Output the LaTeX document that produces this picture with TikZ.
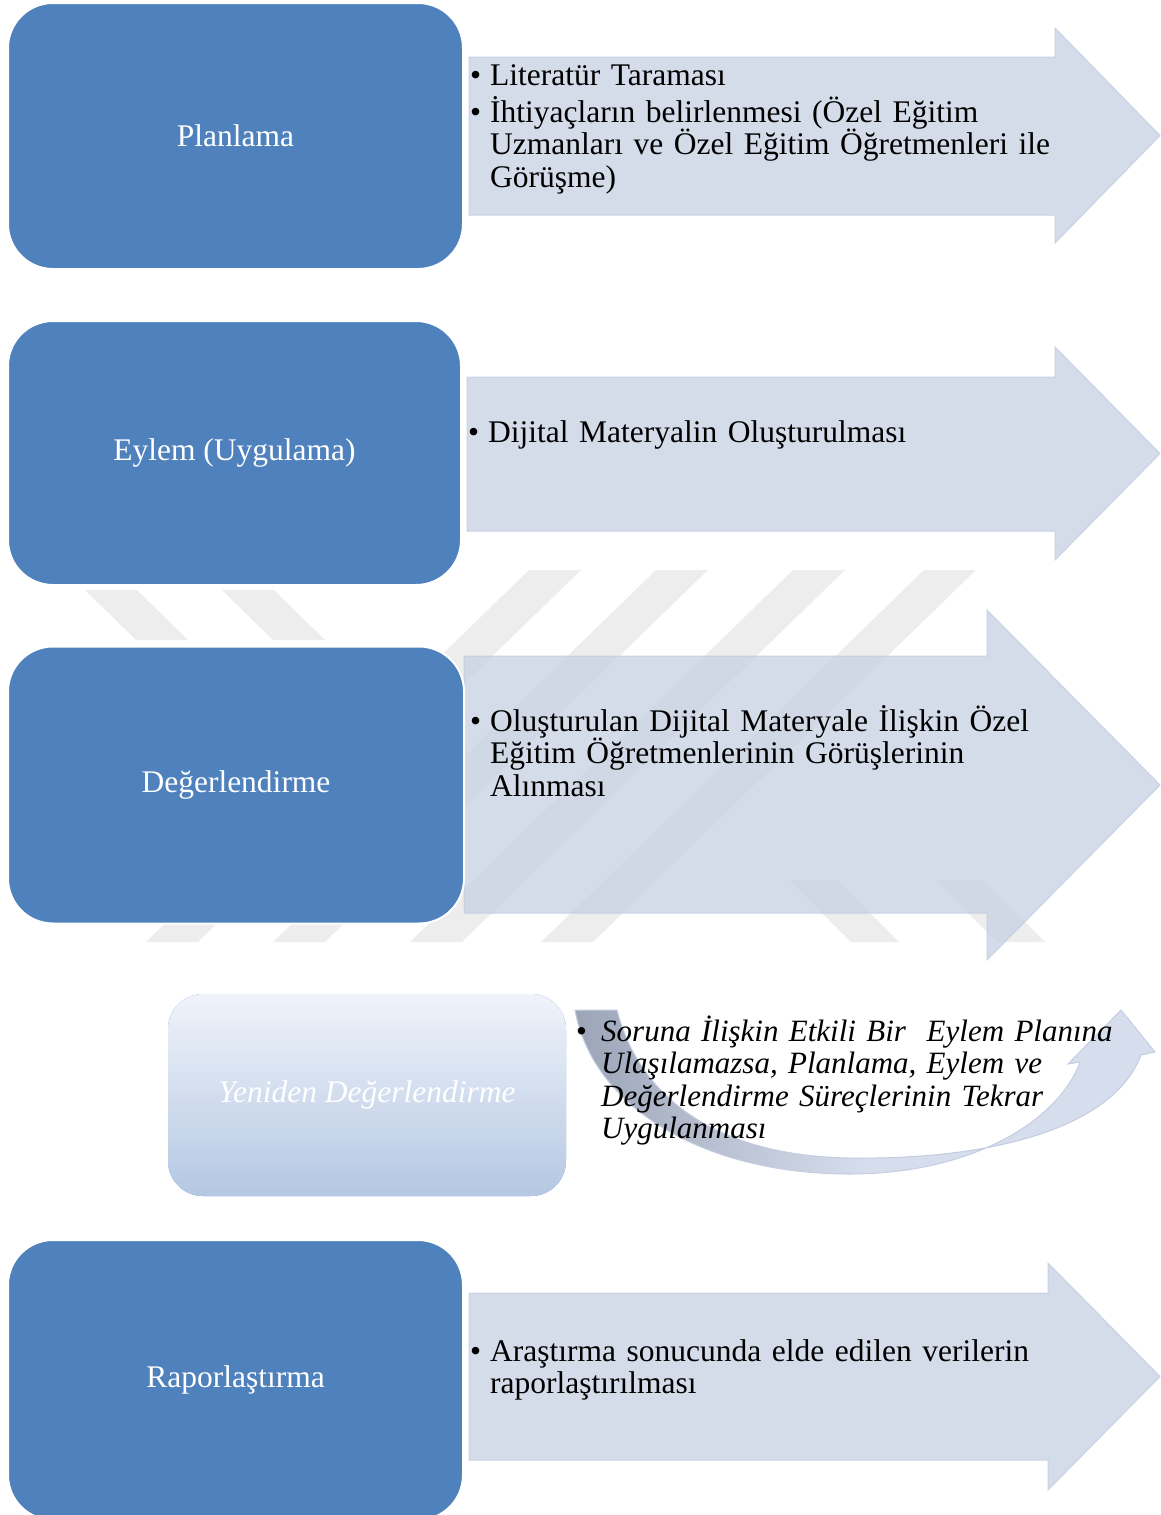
\documentclass[tikz,border=0pt]{standalone}
\usepackage{fontspec}
\setmainfont{Liberation Serif}
\usetikzlibrary{positioning}
\definecolor{boxblue}{HTML}{4F81BD}
\definecolor{arrowfill}{HTML}{D4DCEA}
\definecolor{arrowedge}{HTML}{C9D2E5}
\definecolor{curvedark}{HTML}{9CA5B8}
\definecolor{curvelight}{HTML}{D6DDEC}
\definecolor{curveedge}{HTML}{C4CDE1}
\definecolor{retop}{HTML}{F0F3FA}
\definecolor{rebottom}{HTML}{B4C8E3}
\definecolor{wmgray}{HTML}{EDEDED}
% bullet line with hanging text
\newcommand{\bitem}[2][20pt]{\noindent\makebox[#1][l]{\upshape\textbullet}\parbox[t]{660pt}{\raggedright #2}\par}
% watermark stripes
\newcommand{\wmstripes}[1]{%
\foreach \x in {529,656,793,924}
  \fill[#1] (\x,570) -- (\x+52,570) -- (\x+52-383,942) -- (\x-383,942) -- cycle;
\foreach \x in {85,222}
  \fill[#1] (\x,590) -- (\x+52,590) -- (\x+103,640) -- (\x+51,640) -- cycle;
\foreach \x in {851,997}
  \fill[#1] (\x-62,880) -- (\x-14,880) -- (\x+48,942) -- (\x,942) -- cycle;
}

\begin{document}
\begin{tikzpicture}[x=1pt,y=-1pt,
stage/.style={
rectangle,
rounded corners=45pt,
fill=boxblue,
draw=white,
line width=2pt,
text=white,
font=\fontsize{31.5}{32.5}\selectfont
},
items/.style={anchor=base west,inner sep=0pt,text width=700pt,align=left,font=\fontsize{31.5}{32.5}\selectfont},
bigarrow/.style={fill=arrowfill,draw=arrowedge,line width=1pt},
wmark/.style={fill=wmgray},
wmfaint/.style={fill=black,fill opacity=0.015},
]
\useasboundingbox (0,0) rectangle (1160,1515);
% watermark behind
\wmstripes{wmark}
% arrows
\draw[bigarrow] (469,57) -- (1055,57) -- (1055,28) -- (1160,135.5) -- (1055,243) -- (1055,215) -- (469,215) -- cycle;
\draw[bigarrow] (467,377) -- (1055,377) -- (1055,347) -- (1160,453.5) -- (1055,560) -- (1055,531) -- (467,531) -- cycle;
\draw[bigarrow] (464,656) -- (987,656) -- (987,610) -- (1160,785) -- (987,960) -- (987,913) -- (464,913) -- cycle;
\draw[bigarrow] (469,1293) -- (1048,1293) -- (1048,1263) -- (1160,1376.5) -- (1048,1490) -- (1048,1460) -- (469,1460) -- cycle;
% watermark showing through
\begin{scope}
\clip (464,656) -- (987,656) -- (987,610) -- (1160,785) -- (987,960) -- (987,913) -- (464,913) -- cycle;
\wmstripes{wmfaint}
\end{scope}
% curved arrow
\shade[left color=curvedark,right color=curvelight,middle color=curvelight,draw=curveedge,line width=1pt]
  (575,1010) .. controls (592,1105) and (700,1174) .. (850,1174)
  .. controls (970,1174) and (1058,1122) .. (1080,1062)
  -- (1068,1064) -- (1121,1010) -- (1155,1052) -- (1141,1055)
  .. controls (1115,1125) and (1000,1160) .. (850,1158)
  .. controls (720,1156) and (640,1100) .. (617,1010) -- cycle;
% boxes
\node (plan) [stage,minimum width=455pt,minimum height=266pt] at (235.5,136) {Planlama};
\node (eylem) [stage,minimum width=453pt,minimum height=264pt] at (234.5,453) {Eylem (Uygulama)};
\node (deger) [stage,minimum width=456pt,minimum height=277pt] at (236,785) {Değerlendirme};
\node (yeniden) [stage,rounded corners=35pt,draw=none,top color=retop,bottom color=rebottom,minimum width=398pt,minimum height=202pt,font=\fontsize{31.5}{32.5}\selectfont\itshape] at (367,1095) {Yeniden Değerlendirme};
\node (rapor) [stage,minimum width=455pt,minimum height=280pt] at (235.5,1380) {Raporlaştırma};
% texts
\node (plan-txt) [items] at (470,85) {\bitem{Literatür Taraması}\vspace{4.5pt}\bitem{İhtiyaçların belirlenmesi (Özel Eğitim\\Uzmanları ve Özel Eğitim Öğretmenleri ile\\Görüşme)}};
\node (eylem-txt) [items] at (468,442) {\bitem{Dijital Materyalin Oluşturulması}};
\node (deger-txt) [items] at (470,731) {\bitem{Oluşturulan Dijital Materyale İlişkin Özel\\Eğitim Öğretmenlerinin Görüşlerinin\\Alınması}};
\node (yeniden-txt) [items,font=\fontsize{31}{32.5}\selectfont\itshape] at (576,1041) {\bitem[25pt]{Soruna İlişkin Etkili Bir\ \ Eylem Planına\\Ulaşılamazsa, Planlama, Eylem ve\\Değerlendirme Süreçlerinin Tekrar\\Uygulanması}};
\node (rapor-txt) [items] at (470,1361) {\bitem{Araştırma sonucunda elde edilen verilerin\\raporlaştırılması}};
\end{tikzpicture}
\end{document}
